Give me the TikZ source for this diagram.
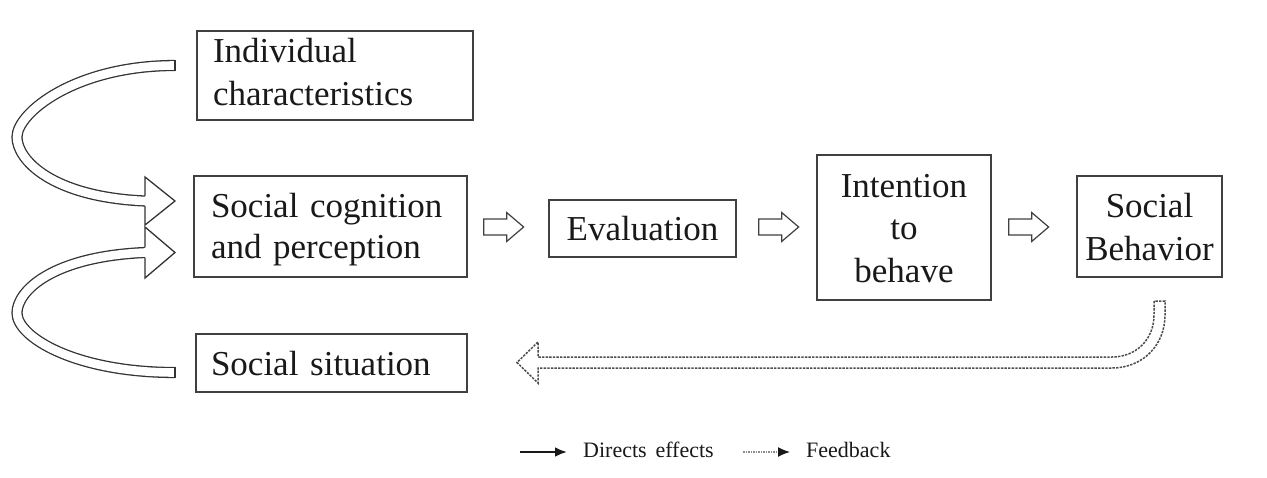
\documentclass[tikz,border=0pt]{standalone}
\usepackage{fontspec}
\setmainfont{Liberation Serif}
\usetikzlibrary{arrows.meta,calc}
\newcommand\blockarrow[1]{\draw[blk] (#1) ++(0,-8) -- ++(23,0) -- ++(0,-6.5) -- ++(17,14.5) -- ++(-17,14.5) -- ++(0,-6.5) -- ++(-23,0) -- cycle;}
\newcommand\lstrut{\rule[-0.21\baselineskip]{0pt}{\baselineskip}}
\begin{document}
\begin{tikzpicture}[x=1pt,y=-1pt,
  box/.style={draw=black!75, line width=1.3pt, inner sep=0pt, text=black!90, font=\fontsize{35}{43}\selectfont},
  lbox/.style={box, align=left},
  cbox/.style={box, align=center},
  blk/.style={draw=black!75, line width=1.2pt, line join=miter, fill=white},
  curv/.style={draw=black!80, line width=1.3pt, double=white, double distance=8.6pt},
  edge/.style={draw=black!80, line width=1.3pt, line join=miter},
  fb/.style={draw=black!70, line width=1.5pt, dash pattern=on 2.4pt off 1.2pt, line join=miter},
  legtext/.style={font=\fontsize{22}{26}\selectfont, text=black!90, inner sep=0pt, anchor=base west}
]
\useasboundingbox (0,0) rectangle (1267,477);

% boxes
\node[lbox, minimum width=276pt, minimum height=89pt, text width=244pt] (ind) at (335,75.5) {\strut Individual\\\strut characteristics};
\node[lbox, font=\fontsize{35}{41}\selectfont, minimum width=273pt, minimum height=101pt, text width=239pt] (cog) at (330.5,226.5) {\lstrut Social cognition\\\lstrut and perception};
\node[cbox, minimum width=187pt, minimum height=57pt] (eval) at (642.5,228.5) {\lstrut Evaluation};
\node[cbox, font=\fontsize{35}{42.5}\selectfont, minimum width=174pt, minimum height=145pt] (int) at (904,227.5) {\lstrut Intention\\\lstrut to\\\lstrut behave};
\node[cbox, minimum width=145pt, minimum height=101pt] (beh) at (1149.5,226.5) {\lstrut Social\\\lstrut Behavior};
\node[lbox, minimum width=271pt, minimum height=58pt, text width=241pt] (sit) at (331.5,363) {\lstrut Social situation};

% straight block arrows
\coordinate (a1) at ($(cog.east)+(16,0.5)$);
\coordinate (a2) at ($(eval.east)+(22,-1.5)$);
\coordinate (a3) at ($(int.east)+(17,-0.5)$);
\blockarrow{a1}
\blockarrow{a2}
\blockarrow{a3}

% curved arrow from individual characteristics
\draw[curv] (175,65.5) .. controls (75,65.5) and (17,113) .. (17,137) .. controls (17,160) and (52,197) .. (145,201);
\draw[edge] (175,59.8) -- (175,71.2);
\fill[white] (145,177) -- (175,201) -- (145,225) -- cycle;
\draw[edge] (145,195.9) -- (145,177) -- (175,201) -- (145,225) -- (145,206.1);

% curved arrow from social situation
\draw[curv] (175,372.5) .. controls (75,372.5) and (17,337) .. (17,313) .. controls (17,291) and (52,256.5) .. (145,252.5);
\draw[edge] (175,366.8) -- (175,378.2);
\fill[white] (145,227) -- (175,252.5) -- (145,278) -- cycle;
\draw[edge] (145,247.4) -- (145,227) -- (175,252.5) -- (145,278) -- (145,257.6);

% feedback arrow
\draw[fb] (1154,301) -- (1154,315) .. controls (1154,339.3) and (1136.3,357) .. (1112,357) -- (538,357) -- (538,342) -- (517,362.5) -- (538,383) -- (538,368) -- (1112,368) .. controls (1142.4,368) and (1165,345.4) .. (1165,315) -- (1165,301) -- cycle;

% legend
\coordinate (l1a) at (520,452);
\coordinate (l1b) at (567,452);
\coordinate (l2a) at (743,452);
\coordinate (l2b) at (790,452);
\draw[line width=2.4pt, black!90, -{Latex[length=12pt,width=10pt]}] (l1a) -- (l1b);
\node[legtext] (t1) at (583,457) {Directs\hspace{0.4em}effects};
\draw[black!45, line width=1.4pt, dash pattern=on 1.5pt off 1pt, -{Latex[length=12pt,width=10pt,color=black!90,fill=black!90]}] (l2a) -- (l2b);
\node[legtext] (t2) at (806,457) {Feedback};
\end{tikzpicture}
\end{document}
